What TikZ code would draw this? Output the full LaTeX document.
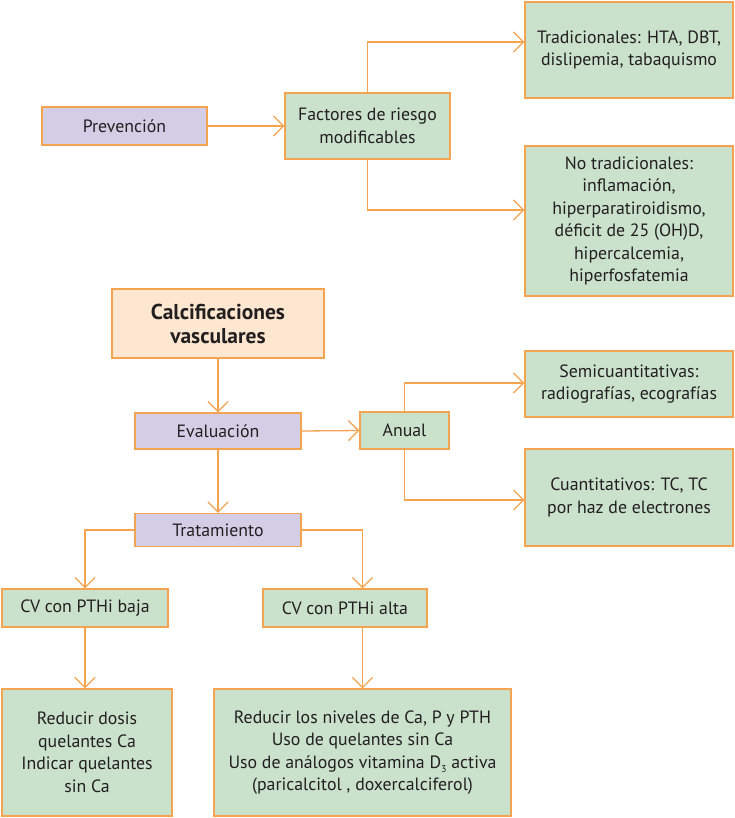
\documentclass[tikz,border=0pt]{standalone}
\usepackage{fontspec}
\setmainfont{PT Sans}
\usetikzlibrary{arrows.meta}
\definecolor{edge}{HTML}{F4A350}
\definecolor{lav}{HTML}{D3CEE5}
\definecolor{grn}{HTML}{CAE1CC}
\definecolor{peach}{HTML}{FEE7D0}
\definecolor{ink}{HTML}{231F20}
\newcommand{\mysubthree}{\raisebox{-4pt}{\fontsize{10}{10}\selectfont 3}}
\tikzset{
  box/.style={draw=edge, line width=1.3pt, rectangle, align=center, inner sep=2pt,
    font=\fontsize{17.8}{22.5}\selectfont, text=ink},
  lbox/.style={box, fill=lav},
  gbox/.style={box, fill=grn},
  pbox/.style={box, fill=peach, font=\fontsize{21.5}{24}\selectfont\bfseries},
  conn/.style={draw=edge, line width=1.3pt, -{Straight Barb[length=10pt,width=20pt,line width=1.3pt]}}
}
\begin{document}
\begin{tikzpicture}[x=1pt,y=-1pt]
\useasboundingbox (0,0) rectangle (734,818);
\fill[white] (0,0) rectangle (734,818);
% nodes
\node[lbox, minimum width=165, minimum height=38] (prev) at (124.5,126) {Prevención};
\node[gbox, minimum width=165, minimum height=66] (fact) at (367.5,126) {Factores de riesgo\\modificables};
\node[gbox, minimum width=208, minimum height=96] (trad) at (629,50) {Tradicionales: HTA, DBT,\\dislipemia, tabaquismo};
\node[gbox, minimum width=208, minimum height=150] (notrad) at (629,221) {No tradicionales:\\inflamación,\\hiperparatiroidismo,\\déficit de 25 (OH)D,\\hipercalcemia,\\hiperfosfatemia};
\node[pbox, minimum width=212, minimum height=69] (calc) at (218,323.5) {Calcificaciones\\vasculares};
\node[lbox, minimum width=166, minimum height=36] (eval) at (218,431) {Evaluación};
\node[gbox, minimum width=89, minimum height=37] (anual) at (404.5,430.5) {Anual};
\node[gbox, minimum width=208, minimum height=66] (semi) at (629,384) {Semicuantitativas:\\radiografías, ecografías};
\node[gbox, minimum width=208, minimum height=97] (cuant) at (629,497.5) {Cuantitativos: TC, TC\\por haz de electrones};
\node[lbox, minimum width=166, minimum height=33] (trat) at (218,530) {Tratamiento};
\node[gbox, minimum width=166, minimum height=38] (baja) at (85,608) {CV con PTHi baja};
\node[gbox, minimum width=164, minimum height=38] (alta) at (345,608) {CV con PTHi alta};
\node[gbox, minimum width=170, minimum height=127] (red1) at (87,752.5) {Reducir dosis\\quelantes Ca\\Indicar quelantes\\sin Ca};
\node[gbox, minimum width=297, minimum height=127] (red2) at (362.5,752.5) {Reducir los niveles de Ca, P y PTH\\Uso de quelantes sin Ca\\Uso de análogos vitamina D\mysubthree{} activa\\(paricalcitol , doxercalciferol)};
% connectors
\draw[conn] (prev.east) -- (fact.west);
\draw[conn] (fact.north) |- (trad.west |- 0,42);
\draw[conn] (fact.south) |- (notrad.west |- 0,210);
\draw[conn] (calc.south) -- (eval.north);
\draw[conn] (eval.east) -- (anual.west);
\draw[conn] (anual.north) |- (semi.west |- 0,383);
\draw[conn] (anual.south) |- (cuant.west |- 0,500);
\draw[conn] (eval.south) -- (trat.north);
\draw[conn] (trat.west) -| (baja.north);
\draw[conn] (trat.east) -| (alta.north -| red2.north);
\draw[conn] (baja.south) -- (baja.south |- red1.north);
\draw[conn] (alta.south -| red2.north) -- (red2.north);
\end{tikzpicture}
\end{document}
